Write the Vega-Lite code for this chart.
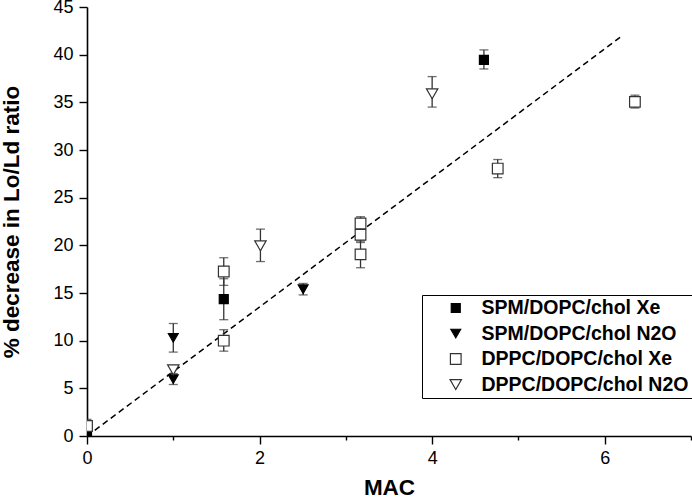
{
  "$schema": "https://vega.github.io/schema/vega-lite/v6.json",
  "autosize": "none",
  "width": 604,
  "height": 429,
  "padding": {"left": 87, "top": 7, "right": 1, "bottom": 63},
  "background": "white",
  "config": {
    "view": {"stroke": null},
    "font": "Liberation Sans",
    "scale": {"continuousPadding": 0},
    "axis": {"grid": false, "labelFlush": false, "domainColor": "black", "domainWidth": 1.6, "tickColor": "black", "tickWidth": 1.4, "labelColor": "black", "titleColor": "black", "labelFont": "Liberation Sans", "titleFont": "Liberation Sans", "labelFontSize": 18, "titleFontSize": 22.5, "titleFontWeight": "bold"}
  },
  "datasets": {
    "pts": [
      {"series": "SPM/DOPC/chol Xe", "mac": 0, "val": 0},
      {"series": "SPM/DOPC/chol Xe", "mac": 1.585, "val": 14.35, "lo": 12.2, "hi": 16.5},
      {"series": "SPM/DOPC/chol Xe", "mac": 4.6, "val": 39.45, "lo": 38.5, "hi": 40.5},
      {"series": "SPM/DOPC/chol N2O", "mac": 1.0, "val": 10.3, "lo": 8.8, "hi": 11.8},
      {"series": "SPM/DOPC/chol N2O", "mac": 1.0, "val": 5.97, "lo": 5.4, "hi": 6.55},
      {"series": "SPM/DOPC/chol N2O", "mac": 2.505, "val": 15.4, "lo": 14.8, "hi": 16.0},
      {"series": "DPPC/DOPC/chol Xe", "mac": 0, "val": 1.05, "lo": 0.35, "hi": 1.75},
      {"series": "DPPC/DOPC/chol Xe", "mac": 1.585, "val": 17.25, "lo": 15.8, "hi": 18.7},
      {"series": "DPPC/DOPC/chol Xe", "mac": 1.585, "val": 10.0, "lo": 8.9, "hi": 11.15},
      {"series": "DPPC/DOPC/chol Xe", "mac": 3.17, "val": 22.3, "lo": 21.6, "hi": 23.0},
      {"series": "DPPC/DOPC/chol Xe", "mac": 3.17, "val": 21.1, "lo": 20.3, "hi": 21.9},
      {"series": "DPPC/DOPC/chol Xe", "mac": 3.17, "val": 19.05, "lo": 17.65, "hi": 20.45},
      {"series": "DPPC/DOPC/chol Xe", "mac": 4.76, "val": 28.05, "lo": 27.1, "hi": 29.0},
      {"series": "DPPC/DOPC/chol Xe", "mac": 6.35, "val": 35.05, "lo": 34.4, "hi": 35.75},
      {"series": "DPPC/DOPC/chol N2O", "mac": 1.0, "val": 6.95},
      {"series": "DPPC/DOPC/chol N2O", "mac": 2.01, "val": 19.95, "lo": 18.3, "hi": 21.7},
      {"series": "DPPC/DOPC/chol N2O", "mac": 4.0, "val": 35.9, "lo": 34.5, "hi": 37.7}
    ],
    "fit": [
      {"mac": 0.09, "val": 0.6},
      {"mac": 6.19, "val": 41.9}
    ]
  },
  "layer": [
    {
      "data": {"name": "fit"},
      "mark": {"type": "line", "color": "black", "strokeWidth": 1.5, "strokeDash": [6, 4]},
      "encoding": {
        "x": {"field": "mac", "type": "quantitative", "scale": {"domain": [0, 7], "padding": 0, "nice": false, "zero": false},
          "axis": {"title": "MAC", "format": "d", "values": [0, 1, 2, 3, 4, 5, 6, 7], "labelExpr": "datum.value % 2 === 0 ? datum.label : ''", "tickSize": {"condition": {"test": "datum.value % 2 === 0", "value": 8}, "value": 4}, "labelPadding": 5, "titlePadding": 9}},
        "y": {"field": "val", "type": "quantitative", "scale": {"domain": [0, 45], "padding": 0, "nice": false},
          "axis": {"title": "% decrease in Lo/Ld ratio", "format": "d", "values": [0, 2.5, 5, 7.5, 10, 12.5, 15, 17.5, 20, 22.5, 25, 27.5, 30, 32.5, 35, 37.5, 40, 42.5, 45], "labelExpr": "datum.value % 5 === 0 ? datum.label : ''", "tickSize": {"condition": {"test": "datum.value % 5 === 0", "value": 8}, "value": 4}, "labelPadding": 6, "titlePadding": 29}}
      }
    },
    {
      "data": {"name": "pts"},
      "transform": [{"filter": "datum.lo != null"}],
      "mark": {"type": "rule", "color": "#333333", "strokeWidth": 1.3, "clip": true},
      "encoding": {
        "x": {"field": "mac", "type": "quantitative"},
        "y": {"field": "lo", "type": "quantitative"},
        "y2": {"field": "hi"}
      }
    },
    {
      "data": {"name": "pts"},
      "transform": [{"filter": "datum.lo != null"}],
      "mark": {"type": "tick", "orient": "horizontal", "color": "#333333", "size": 9, "thickness": 1.3, "clip": true},
      "encoding": {
        "x": {"field": "mac", "type": "quantitative"},
        "y": {"field": "lo", "type": "quantitative"}
      }
    },
    {
      "data": {"name": "pts"},
      "transform": [{"filter": "datum.lo != null"}],
      "mark": {"type": "tick", "orient": "horizontal", "color": "#333333", "size": 9, "thickness": 1.3, "clip": true},
      "encoding": {
        "x": {"field": "mac", "type": "quantitative"},
        "y": {"field": "hi", "type": "quantitative"}
      }
    },
    {
      "data": {"name": "pts"},
      "mark": {"type": "point", "filled": true, "strokeWidth": 1.2, "opacity": 1, "clip": true},
      "encoding": {
        "x": {"field": "mac", "type": "quantitative"},
        "y": {"field": "val", "type": "quantitative"},
        "shape": {"field": "series", "type": "nominal", "scale": {"domain": ["SPM/DOPC/chol Xe", "SPM/DOPC/chol N2O", "DPPC/DOPC/chol Xe", "DPPC/DOPC/chol N2O"], "range": ["square", "triangle-down", "square", "triangle-down"]},
          "legend": {"title": null, "orient": "none", "legendX": 335, "legendY": 288, "strokeColor": "black", "fillColor": "white", "padding": 3, "clipHeight": 20, "symbolOffset": 21, "labelFont": "Liberation Sans", "labelFontSize": 19.5, "labelFontWeight": "bold", "labelColor": "black", "labelOffset": 16, "labelLimit": 0, "rowPadding": 5.5, "symbolStrokeWidth": 1.2}},
        "fill": {"field": "series", "type": "nominal", "scale": {"domain": ["SPM/DOPC/chol Xe", "SPM/DOPC/chol N2O", "DPPC/DOPC/chol Xe", "DPPC/DOPC/chol N2O"], "range": ["black", "black", "white", "white"]}},
        "stroke": {"field": "series", "type": "nominal", "scale": {"domain": ["SPM/DOPC/chol Xe", "SPM/DOPC/chol N2O", "DPPC/DOPC/chol Xe", "DPPC/DOPC/chol N2O"], "range": ["black", "black", "#333333", "#333333"]}},
        "size": {"field": "series", "type": "nominal", "scale": {"domain": ["SPM/DOPC/chol Xe", "SPM/DOPC/chol N2O", "DPPC/DOPC/chol Xe", "DPPC/DOPC/chol N2O"], "range": [81, 130, 60, 144]}}
      }
    }
  ]
}
